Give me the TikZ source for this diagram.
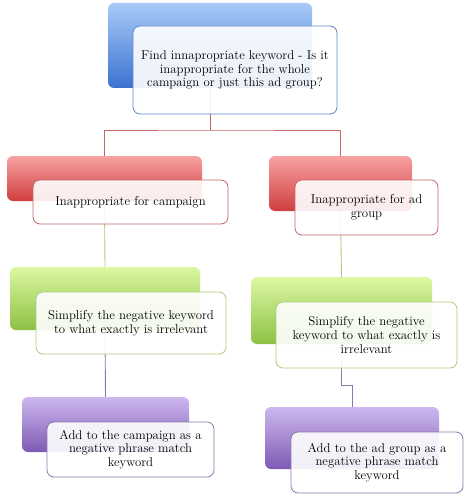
\documentclass[tikz,border=0pt]{standalone}
\usetikzlibrary{positioning}
\definecolor{bluetop}{HTML}{A8CAF8}
\definecolor{bluebot}{HTML}{3B72D0}
\definecolor{blueedge}{HTML}{5A88CC}
\definecolor{redtop}{HTML}{F8A2A2}
\definecolor{redbot}{HTML}{D03E3E}
\definecolor{rededge}{HTML}{C86464}
\definecolor{greentop}{HTML}{DCF8A2}
\definecolor{greenbot}{HTML}{8DC044}
\definecolor{greenedge}{HTML}{AECB7E}
\definecolor{purpletop}{HTML}{CEB8EE}
\definecolor{purplebot}{HTML}{7C5AB4}
\definecolor{purpleedge}{HTML}{8A78AC}
\begin{document}
\begin{tikzpicture}[x=1pt, y=1pt,
	back/.style = {rectangle, rounded corners=6pt, inner sep=0pt},
	front/.style = {draw, line width=0.8pt, rounded corners=7pt, fill=white, fill opacity=0.9, text opacity=1, align=center, inner sep=0pt, font=\fontsize{12.8}{13.6}\selectfont},
	link/.style = {line width=0.9pt}]
		\useasboundingbox (0,0) rectangle (465,-497);
		% back boxes
		\node[back, top color=bluetop, bottom color=bluebot, minimum width=204pt, minimum height=85pt] (b1) at (210,-45.5) {};
		\node[back, top color=redtop, bottom color=redbot, minimum width=195pt, minimum height=45pt] (b2) at (104.5,-178.5) {};
		\node[back, top color=redtop, bottom color=redbot, minimum width=143pt, minimum height=55pt] (b3) at (340.5,-183.5) {};
		\node[back, top color=greentop, bottom color=greenbot, minimum width=190pt, minimum height=63pt] (b4) at (105,-298.5) {};
		\node[back, top color=greentop, bottom color=greenbot, minimum width=181pt, minimum height=67pt] (b5) at (341.5,-310.5) {};
		\node[back, top color=purpletop, bottom color=purplebot, minimum width=167pt, minimum height=55pt] (b6) at (105.5,-424.5) {};
		\node[back, top color=purpletop, bottom color=purplebot, minimum width=174pt, minimum height=62pt] (b7) at (352,-438) {};
		% connectors
		\coordinate (split) at (210,-130);
		\draw[link, rededge] (b1.south) -- (split);
		\draw[link, rededge] (b2.north) |- (split) -| (b3.north);
		\draw[link, greenedge] (b2.south) -- (b4.north);
		\draw[link, greenedge] (b3.south) -- (b5.north);
		\draw[link, purpleedge] (b4.south) -- (b6.north);
		\draw[link, purpleedge] (b5.south) -- ++(0,-41) -| (b7.north);
		% front boxes
		\node[front, draw=blueedge, minimum width=204pt, minimum height=88pt] (1) at (235,-70) {Find innapropriate keyword - Is it\\inappropriate for the whole\\campaign or just this ad group?};
		\node[front, draw=rededge, minimum width=195pt, minimum height=44pt] (2) at (130.5,-202) {Inappropriate for campaign};
		\node[front, draw=rededge, minimum width=143pt, minimum height=55pt] (3) at (366.5,-207.5) {Inappropriate for ad\\group};
		\node[front, draw=greenedge, minimum width=190pt, minimum height=62pt] (4) at (131,-323) {Simplify the negative keyword\\to what exactly is irrelevant};
		\node[front, draw=greenedge, minimum width=181pt, minimum height=66pt] (5) at (366.5,-335) {Simplify the negative\\keyword to what exactly is\\irrelevant};
		\node[front, draw=purpleedge, minimum width=167pt, minimum height=55pt] (6) at (130.5,-449.5) {Add to the campaign as a\\negative phrase match\\keyword};
		\node[front, draw=purpleedge, minimum width=172pt, minimum height=61pt] (7) at (377,-462.5) {Add to the ad group as a\\negative phrase match\\keyword};
	\end{tikzpicture}
\end{document}
